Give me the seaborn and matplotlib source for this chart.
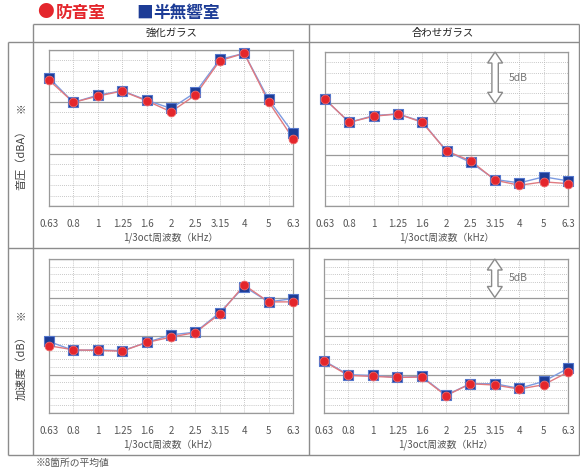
import matplotlib
matplotlib.use("Agg")
import matplotlib.pyplot as plt
from matplotlib.patches import Polygon
import pandas as pd
import seaborn as sns

# 1/3oct 周波数 (kHz)
freqs = ["0.63", "0.8", "1", "1.25", "1.6", "2", "2.5", "3.15", "4", "5", "6.3"]

# 音圧 (dBA) - 強化ガラス
snd_kyoka_bouon = [12.1, 9.96, 10.57, 11.05, 10.12, 9.06, 10.66, 13.97, 14.68, 10.02, 6.49]
snd_kyoka_hanmu = [12.33, 9.96, 10.66, 11.08, 10.18, 9.38, 10.92, 14.1, 14.68, 10.25, 7.03]
# 音圧 (dBA) - 合わせガラス
snd_awase_bouon = [10.4, 8.15, 8.74, 8.97, 8.15, 5.35, 4.4, 2.51, 2.02, 2.35, 2.18]
snd_awase_hanmu = [10.4, 8.15, 8.8, 8.97, 8.22, 5.35, 4.24, 2.58, 2.25, 2.84, 2.45]
# 加速度 (dB) - 強化ガラス
acc_kyoka_bouon = [8.73, 8.21, 8.12, 8.03, 9.16, 9.85, 10.45, 12.87, 16.63, 14.43, 14.43]
acc_kyoka_hanmu = [9.29, 8.12, 8.21, 8.08, 9.16, 10.15, 10.5, 13.05, 16.41, 14.43, 14.86]
# 加速度 (dB) - 合わせガラス
acc_awase_bouon = [6.7, 4.88, 4.75, 4.62, 4.67, 2.25, 3.8, 3.63, 3.11, 3.67, 5.31]
acc_awase_hanmu = [6.78, 4.97, 4.88, 4.62, 4.75, 2.33, 3.8, 3.8, 3.2, 4.1, 5.79]

sns.set_style("white")
plt.rcParams["font.family"] = ["Noto Sans CJK JP", "DejaVu Sans"]

W, H = 580, 473
fig = plt.figure(figsize=(W / 100, H / 100), dpi=100)

# background axes in pixel coords for the table frame and labels
bg = fig.add_axes([0, 0, 1, 1], zorder=0)
bg.set_xlim(0, W)
bg.set_ylim(H, 0)
bg.axis("off")

frame_col = "#8c8c8c"
for (x0, x1, y0, y1) in [(33, 579, 24, 24), (8, 579, 42, 42), (8, 579, 248, 248),
                         (8, 579, 455, 455), (8, 8, 42, 455), (33, 33, 24, 455),
                         (309, 309, 24, 455), (579, 579, 24, 455)]:
    bg.plot([x0, x1], [y0, y1], color=frame_col, lw=1.0, solid_capstyle="butt")

bg.text(171, 33, "強化ガラス", ha="center", va="center", fontsize=7.5, color="#222222")
bg.text(443, 33, "合わせガラス", ha="center", va="center", fontsize=7.5, color="#222222")
bg.text(21, 157, "音圧（dBA）", rotation=90, ha="center", va="center", fontsize=8, color="#444444")
bg.text(21, 108, "※", rotation=90, ha="center", va="center", fontsize=7.5, color="#444444")
bg.text(21, 365, "加速度（dB）", rotation=90, ha="center", va="center", fontsize=8, color="#444444")
bg.text(21, 315, "※", rotation=90, ha="center", va="center", fontsize=7.5, color="#444444")
bg.text(36, 463, "※8箇所の平均値", ha="left", va="center", fontsize=7, color="#555555")

# legend
red = "#e4262c"
blue = "#1d3c96"
bg.text(37, 13, "●", ha="left", va="center", fontsize=12, color=red)
bg.text(56, 13, "防音室", ha="left", va="center", fontsize=12, color=red, fontweight="bold")
bg.text(136, 13, "■", ha="left", va="center", fontsize=12, color=blue)
bg.text(153, 13, "半無響室", ha="left", va="center", fontsize=12, color=blue, fontweight="bold")


def hollow_arrow(ax, x, y_lo, y_hi, wpx, hpx, ymax):
    # double headed outline arrow, sizes given in pixels
    dx = 10 / wpx
    dy = ymax / hpx
    bw, hw, hl = 3.2 * dx, 7.5 * dx, 11 * dy
    pts = [(x, y_hi), (x + hw, y_hi - hl), (x + bw, y_hi - hl), (x + bw, y_lo + hl),
           (x + hw, y_lo + hl), (x, y_lo), (x - hw, y_lo + hl), (x - bw, y_lo + hl),
           (x - bw, y_hi - hl), (x - hw, y_hi - hl)]
    ax.add_patch(Polygon(pts, closed=True, facecolor="white", edgecolor="#8a8a8a",
                         lw=1.0, zorder=3, clip_on=False))


panels = [
    ((49, 50, 293, 206), snd_kyoka_bouon, snd_kyoka_hanmu, 15, False),
    ((325, 52, 568, 206), snd_awase_bouon, snd_awase_hanmu, 15, True),
    ((49, 259, 293, 413), acc_kyoka_bouon, acc_kyoka_hanmu, 20, False),
    ((324, 259, 568, 413), acc_awase_bouon, acc_awase_hanmu, 20, True),
]

for (x0, y0, x1, y1), bouon, hanmu, ymax, arrow in panels:
    ax = fig.add_axes([x0 / W, (H - y1) / H, (x1 - x0) / W, (y1 - y0) / H], zorder=2)
    ax.set_facecolor("none")
    df = pd.DataFrame({
        "idx": list(range(len(freqs))) * 2,
        "val": hanmu + bouon,
        "room": ["半無響室"] * len(freqs) + ["防音室"] * len(freqs),
    })
    sns.lineplot(data=df, x="idx", y="val", hue="room", hue_order=["半無響室", "防音室"],
                 palette={"半無響室": "#7d9be0", "防音室": "#e07a80"}, lw=1.0,
                 legend=False, ax=ax, zorder=3)
    sns.scatterplot(data=df[df.room == "半無響室"], x="idx", y="val", marker="s", s=55,
                    color=blue, edgecolor="#5577cc", linewidth=0.8, legend=False, ax=ax,
                    zorder=4, clip_on=False)
    sns.scatterplot(data=df[df.room == "防音室"], x="idx", y="val", marker="o", s=40,
                    color=red, edgecolor="#f06a6a", linewidth=0.6, legend=False, ax=ax,
                    zorder=5, clip_on=False)

    ax.set_xlim(0, len(freqs) - 1)
    ax.set_ylim(0, ymax)
    ax.set_xticks(range(len(freqs)))
    ax.set_xticklabels(freqs)
    ax.set_yticks(range(0, ymax + 1, 5))
    ax.set_yticks(range(0, ymax + 1, 1), minor=True)
    ax.tick_params(axis="both", which="both", length=0, labelleft=False,
                   labelsize=7, labelcolor="#555555", pad=9)
    ax.grid(which="major", axis="y", ls="-", color="#9a9a9a", lw=0.9)
    ax.grid(which="minor", axis="y", ls=(0, (1, 1.5)), color="#b5b5b5", lw=0.6)
    ax.grid(which="major", axis="x", ls=(0, (1, 1.5)), color="#b5b5b5", lw=0.6)
    ax.set_axisbelow(True)
    for sp in ax.spines.values():
        sp.set_color("#9a9a9a")
        sp.set_linewidth(0.9)
    ax.set_ylabel("")
    ax.set_xlabel("1/3oct周波数（kHz）", fontsize=7, color="#555555", labelpad=3)

    if arrow:
        hollow_arrow(ax, 7, ymax - 5, ymax, x1 - x0, y1 - y0, ymax)
        ax.text(7.95, ymax - 2.5, "5dB", ha="center", va="center", fontsize=7.5, color="#777777")

fig.savefig("out.png", dpi=100)
